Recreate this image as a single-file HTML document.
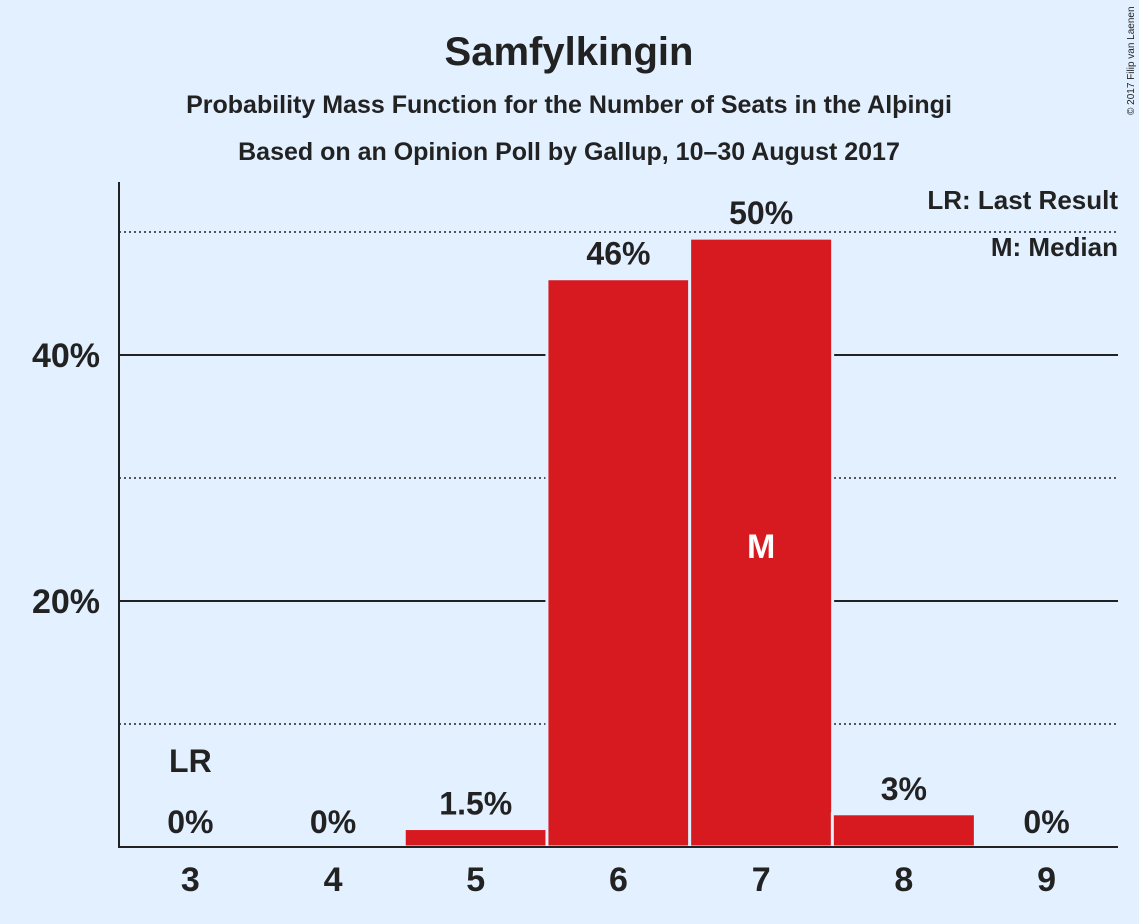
<!DOCTYPE html>
<html><head><meta charset="utf-8"><style>
body{margin:0;background:#e2f0ff;}
svg{display:block;font-family:"Liberation Sans",sans-serif;}
</style></head><body>
<svg id="c" width="1139" height="924">
<rect width="1139" height="924" fill="#e2f0ff"/>
<text x="569" y="65" text-anchor="middle" font-size="40" font-weight="bold" fill="#222">Samfylkingin</text>
<text x="569" y="113" text-anchor="middle" font-size="25" font-weight="bold" fill="#222">Probability Mass Function for the Number of Seats in the Alþingi</text>
<text x="569" y="160" text-anchor="middle" font-size="25" font-weight="bold" fill="#222">Based on an Opinion Poll by Gallup, 10–30 August 2017</text>
<text transform="translate(1134,115) rotate(-90)" font-size="10" fill="#222">© 2017 Filip van Laenen</text>
<text x="1118" y="209" text-anchor="end" font-size="26" font-weight="bold" fill="#222">LR: Last Result</text>
<text x="1118" y="256" text-anchor="end" font-size="26" font-weight="bold" fill="#222">M: Median</text>
<g id="grid"></g><g id="bars"></g><g id="labels"></g>
<line x1="119" y1="182" x2="119" y2="848" stroke="#222" stroke-width="2"/>
<line x1="118" y1="847" x2="1118" y2="847" stroke="#222" stroke-width="2"/>
</svg>
<script>
const categories=[3,4,5,6,7,8,9];
const values=[0,0,1.5,46.2,49.5,2.7,0];
const valueLabels=["0%","0%","1.5%","46%","50%","3%","0%"];
const solidTicks=[20,40];
const dottedTicks=[10,30,50];
const lastResult=3, median=7;
const NS="http://www.w3.org/2000/svg";
const y=v=>847-v*12.3;
const x0=119,step=142.7;
const xc=i=>x0+step*(i+0.5);
function el(t,a,p){const e=document.createElementNS(NS,t);for(const k in a)e.setAttribute(k,a[k]);p.appendChild(e);return e;}
const g=document.getElementById('grid'),b=document.getElementById('bars'),l=document.getElementById('labels');
dottedTicks.forEach(v=>{const e=el('line',{x1:119,x2:1118,y1:y(v),y2:y(v),stroke:'#222','stroke-width':1.5,'stroke-dasharray':'2,3'},g);

});
solidTicks.forEach(v=>{const e=el('line',{x1:119,x2:1118,y1:y(v),y2:y(v),stroke:'#222','stroke-width':2},g);


const t=el('text',{x:100,y:y(v)+12,'text-anchor':'end','font-size':34,'font-weight':'bold',fill:'#222'},l);t.textContent=v+'%';

});
categories.forEach((c,i)=>{
 const cx=xc(i);
 if(values[i]>0){const r=el('rect',{x:cx-71.5,y:y(values[i]),width:143,height:847-y(values[i]),fill:'#d71920',stroke:'#e2f0ff','stroke-width':3},b);
 
 }
 const t=el('text',{x:cx,y:y(values[i])-14,'text-anchor':'middle','font-size':32,'font-weight':'bold',fill:'#222'},l);t.textContent=valueLabels[i];
 
 
 const xt=el('text',{x:cx,y:891,'text-anchor':'middle','font-size':34,'font-weight':'bold',fill:'#222'},l);xt.textContent=c;
 
 
 if(c===lastResult){const lr=el('text',{x:cx,y:y(values[i])-75,'text-anchor':'middle','font-size':32,'font-weight':'bold',fill:'#222'},l);lr.textContent='LR';
 
 }
 if(c===median){const m=el('text',{x:cx,y:558,'text-anchor':'middle','font-size':34,'font-weight':'bold',fill:'#fff'},l);m.textContent='M';
 
 }
});
</script>
</body></html>
